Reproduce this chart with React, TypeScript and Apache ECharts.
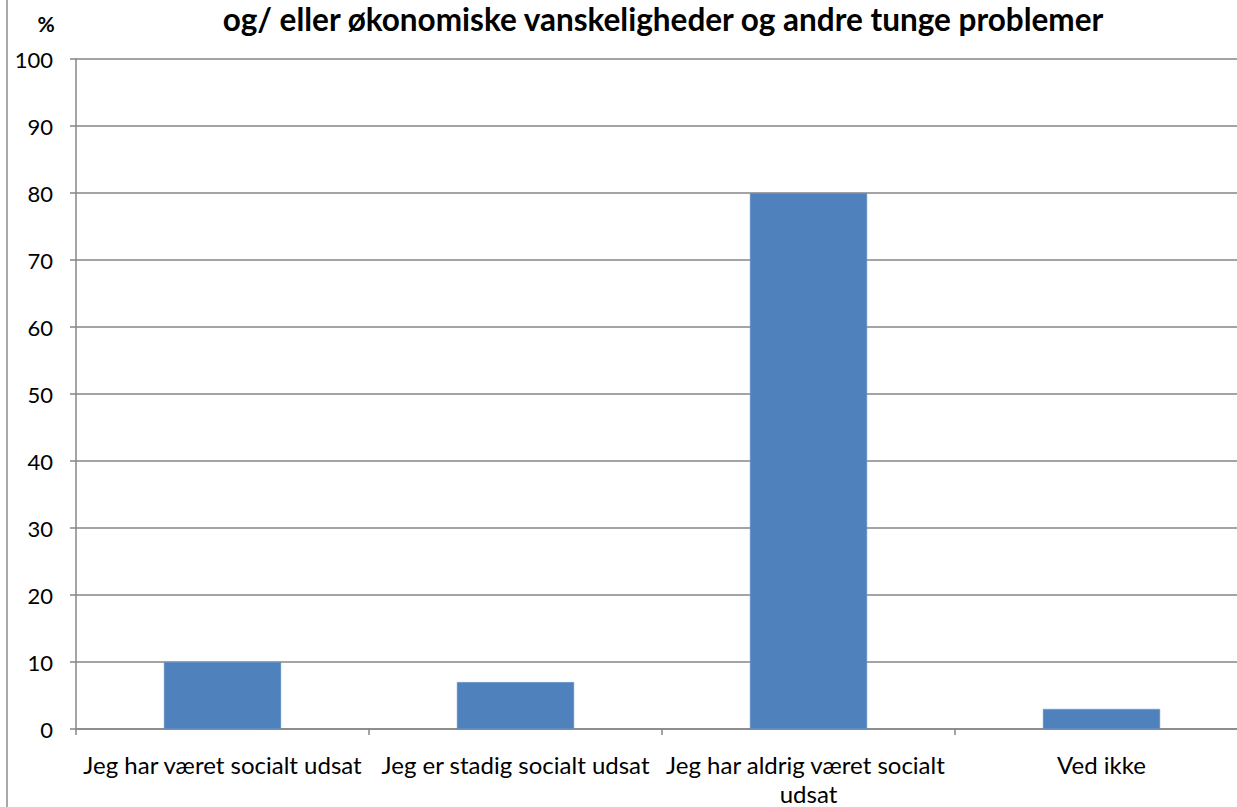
import React, { useEffect, useRef } from "react";
import * as echarts from "echarts";

const categories = [
  "Jeg har været socialt udsat",
  "Jeg er stadig socialt udsat",
  "Jeg har aldrig været socialt udsat",
  "Ved ikke",
];
const values = [10, 7, 80, 3];
const titleText = "og/ eller økonomiske vanskeligheder og andre tunge problemer";
const yUnit = "%";

const FONT = "Lato, 'Open Sans', sans-serif";

export default function App() {
  const ref = useRef<HTMLDivElement>(null);
  useEffect(() => {
    if (!ref.current) return;
    const chart = echarts.init(ref.current, null, { renderer: "svg" });
    chart.setOption({
      animation: false,
      backgroundColor: "#ffffff",
      textStyle: { fontFamily: FONT },
      graphic: [
        {
          type: "line",
          shape: { x1: 7, y1: 0, x2: 7, y2: 807 },
          style: { stroke: "#8c8c8c", lineWidth: 1.5 },
        },
        {
          type: "text",
          x: 663,
          y: 19,
          style: {
            text: titleText,
            fontFamily: FONT,
            fontWeight: "bold",
            fontSize: 31.5,
            fill: "#000",
            textAlign: "center",
            textVerticalAlign: "middle",
          },
        },
        {
          type: "text",
          x: 46,
          y: 23,
          style: {
            text: yUnit,
            fontFamily: FONT,
            fontWeight: "bold",
            fontSize: 21,
            fill: "#000",
            textAlign: "center",
            textVerticalAlign: "middle",
          },
        },
      ],
      grid: {
        left: 76,
        top: 59,
        right: -11,
        bottom: 78,
        containLabel: false,
        outerBoundsMode: "none",
      },
      xAxis: {
        type: "category",
        data: categories,
        axisLine: { lineStyle: { color: "#868686", width: 1.5 } },
        axisTick: { show: true, length: 6, lineStyle: { color: "#868686", width: 1.5 } },
        axisLabel: {
          interval: 0,
          color: "#000",
          fontSize: 24,
          fontFamily: FONT,
          margin: 21,
          width: 292,
          overflow: "break",
          lineHeight: 29,
        },
      },
      yAxis: {
        type: "value",
        min: 0,
        max: 100,
        interval: 10,
        axisLine: { show: true, lineStyle: { color: "#868686", width: 1.5 } },
        axisTick: { show: true, length: 6, lineStyle: { color: "#868686", width: 1.5 } },
        splitLine: { show: true, lineStyle: { color: "#868686", width: 1.5 } },
        axisLabel: { color: "#000", fontSize: 22, fontFamily: FONT, margin: 23 },
      },
      series: [
        {
          type: "bar",
          data: values,
          barWidth: "40%",
          itemStyle: { color: "#4F81BD", borderColor: "#6a96cc", borderWidth: 0.5 },
        },
      ],
    });
    return () => chart.dispose();
  }, []);
  return (
    <div
      ref={ref}
      style={{ position: "absolute", left: 0, top: 0, width: 1237, height: 807 }}
    />
  );
}
